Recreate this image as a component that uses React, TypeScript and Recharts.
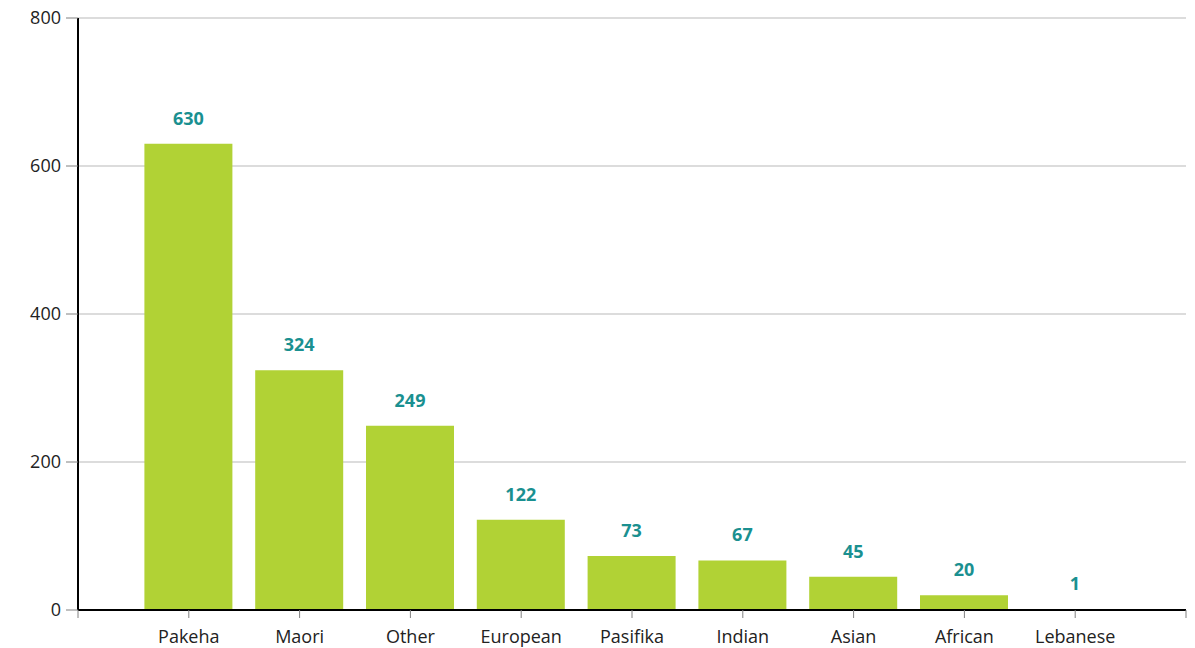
import React from "react";
import {
  BarChart,
  Bar,
  XAxis,
  YAxis,
  CartesianGrid,
  LabelList,
} from "recharts";

const categories = [
  "Pakeha",
  "Maori",
  "Other",
  "European",
  "Pasifika",
  "Indian",
  "Asian",
  "African",
  "Lebanese",
];
const counts = [630, 324, 249, 122, 73, 67, 45, 20, 1];
const yTicks = [0, 200, 400, 600, 800];
const xTicks = [0, 1, 2, 3, 4, 5, 6, 7, 8, 9, 10];

const data = categories.map((name, i) => ({ pos: i + 1, name, value: counts[i] }));

const FONT = "'Open Sans', 'Noto Sans', sans-serif";

const App = () => {
  // pull the chart up over the body margin so the top "800" label has room
  return (
    <div style={{ width: 1187, height: 648, marginTop: -8, fontFamily: FONT }}>
      <BarChart
        width={1187}
        height={648}
        data={data}
        margin={{ top: 18, right: 9, bottom: 0, left: 0 }}
      >
        <CartesianGrid
          vertical={false}
          stroke="#dcdcdc"
          strokeWidth={2}
        />
        <XAxis
          dataKey="pos"
          type="number"
          domain={[0, 10]}
          ticks={xTicks}
          interval={0}
          tickFormatter={(v) => categories[v - 1] ?? ""}
          axisLine={{ stroke: "#000", strokeWidth: 2 }}
          tickLine={{ stroke: "#808080" }}
          tickSize={8}
          tickMargin={12}
          height={38}
          tick={{ fill: "#222", fontSize: 18, fontFamily: FONT }}
        />
        <YAxis
          domain={[0, 800]}
          ticks={yTicks}
          width={70}
          axisLine={{ stroke: "#000", strokeWidth: 2 }}
          tickLine={{ stroke: "#808080" }}
          tickSize={12}
          tickMargin={5}
          tick={{ fill: "#222", fontSize: 18, fontFamily: FONT }}
        />
        <Bar dataKey="value" fill="#b1d235" barSize={88} isAnimationActive={false}>
          <LabelList
            dataKey="value"
            position="top"
            offset={19}
            fill="#1a9090"
            fontSize={18}
            fontWeight="bold"
            fontFamily={FONT}
          />
        </Bar>
      </BarChart>
    </div>
  );
};

export default App;
